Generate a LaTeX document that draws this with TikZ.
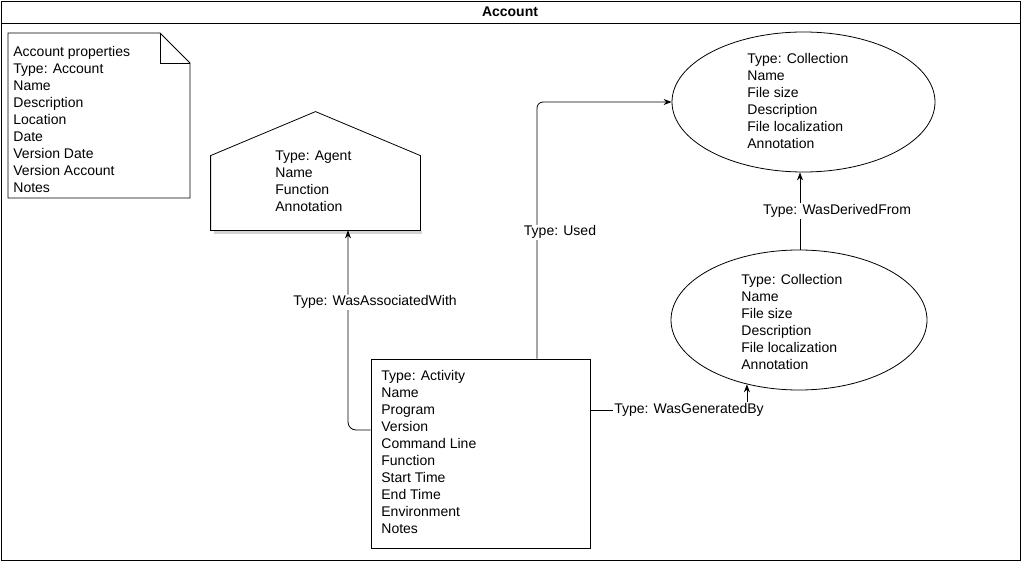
\documentclass[tikz,border=0pt]{standalone}
\usepackage{fontspec}
\setmainfont{Liberation Sans}
\usetikzlibrary{arrows, arrows.meta, positioning, shapes}

\tikzset{
  txt/.style={font=\fontsize{14}{17}\selectfont, align=left, inner sep=0pt, anchor=north west},
  lbl/.style={font=\fontsize{14}{17}\selectfont, fill=white, inner sep=1pt},
  link/.style={-{Stealth[length=8pt,width=6pt]}},
}

\begin{document}
\begin{tikzpicture}[x=1pt, y=-1pt, line width=0.8pt]
\useasboundingbox (0,0) rectangle (1022,564);
\node (frame)[draw, rectangle, minimum width=1019pt, minimum height=559pt, anchor=north west] at (1,1) {};
\draw ([yshift=-22pt]frame.north west) -- ([yshift=-22pt]frame.north east);
\node (title)[font=\bfseries\fontsize{14}{17}\selectfont] at (510,12) {Account};

\draw (8,33) -- (160,33) -- (190,63) -- (190,198) -- (8,198) -- cycle;
\draw (160,33) -- (160,63) -- (190,63);
\node (props)[txt] at (13,46) {Account properties\\Type: Account\\Name\\Description\\Location\\Date\\Version Date\\Version Account\\Notes};

\node (agent)[rectangle, minimum width=209pt, minimum height=74pt] at (315.5,193) {};
\draw [gray!35, line width=2.5pt] ([xshift=3pt,yshift=-2pt]agent.south west) -- ([xshift=2pt,yshift=-2pt]agent.south east);
\draw [fill=white] (agent.south west) -- (agent.north west) -- ([yshift=44pt]agent.north) -- (agent.north east) -- (agent.south east) -- cycle;
\node (agenttxt)[txt] at (275,150) {Type: Agent\\Name\\Function\\Annotation};

\node (act)[draw, rectangle, minimum width=219pt, minimum height=189pt] at (480.5,453.5) {};
\node (acttxt)[txt] at (381,370) {Type: Activity\\Name\\Program\\Version\\Command Line\\Function\\Start Time\\End Time\\Environment\\Notes};

\node (coll)[draw, ellipse, minimum width=263pt, minimum height=140pt] at (803.5,102) {};
\node (colltxt)[txt] at (747,53) {Type: Collection\\Name\\File size\\Description\\File localization\\Annotation};
\node (src)[draw, ellipse, minimum width=256pt, minimum height=140pt] at (799,320) {};
\node (srctxt)[txt] at (741,274) {Type: Collection\\Name\\File size\\Description\\File localization\\Annotation};

\draw [link] ([xshift=1pt]src.north) -- ([xshift=1pt]src.north |- coll.south) node[lbl, midway, xshift=37pt] (derived) {Type: WasDerivedFrom};
\draw [link, rounded corners=6pt] ([xshift=56.5pt]act.north) |- (coll.west) node[lbl, pos=0.25, xshift=23pt, yshift=-2pt] (used) {Type: Used};
\draw [link, rounded corners=8pt] ([yshift=23.5pt]act.west) -| ([xshift=32.5pt]agent.south) node[lbl, pos=0.825, xshift=27pt, yshift=-2pt] (assoc) {Type: WasAssociatedWith};
\draw [link] ([yshift=43.5pt]act.east) -| (src.231) node[lbl, pos=0.315] (gen) {Type: WasGeneratedBy};
\end{tikzpicture}
\end{document}
